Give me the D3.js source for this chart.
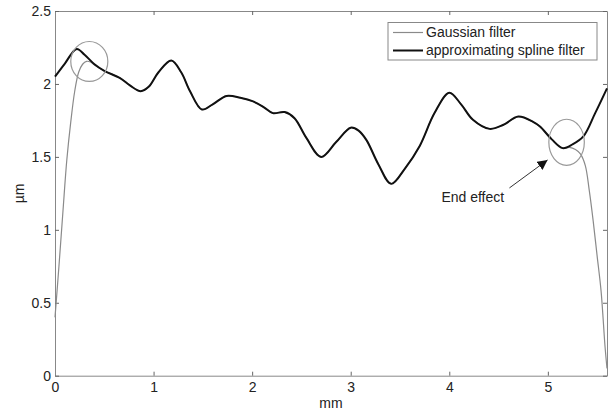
<!DOCTYPE html>
<html>
<head>
<meta charset="utf-8">
<script src="https://cdn.jsdelivr.net/npm/d3@7"></script>
<style>
  body { margin: 0; background: #fff; }
  svg { display: block; font-family: "Liberation Sans", Arial, sans-serif; }
</style>
</head>
<body>
<svg width="614" height="416"></svg>
<script>
// profile readings (mm, µm)
const splineX = [0.00, 0.10, 0.22, 0.30, 0.40, 0.50, 0.66, 0.76, 0.87, 0.95, 1.05, 1.18, 1.28, 1.37, 1.49, 1.60, 1.74, 1.88, 2.01, 2.12, 2.21, 2.33, 2.43, 2.55, 2.70, 2.85, 3.00, 3.08, 3.16, 3.28, 3.41, 3.55, 3.70, 3.85, 4.00, 4.12, 4.24, 4.41, 4.55, 4.70, 4.85, 4.92, 5.04, 5.15, 5.25, 5.36, 5.48, 5.60];
const splineY = [2.05, 2.14, 2.24, 2.20, 2.135, 2.09, 2.04, 1.99, 1.95, 1.98, 2.08, 2.16, 2.08, 1.95, 1.825, 1.86, 1.918, 1.905, 1.88, 1.84, 1.80, 1.807, 1.765, 1.63, 1.50, 1.60, 1.70, 1.68, 1.615, 1.45, 1.315, 1.42, 1.575, 1.80, 1.94, 1.86, 1.754, 1.692, 1.72, 1.776, 1.74, 1.708, 1.62, 1.56, 1.585, 1.64, 1.80, 1.97];

const gaussX = [0.00, 0.04, 0.08, 0.12, 0.16, 0.20, 0.24, 0.28, 0.32, 0.36, 0.40, 0.50, 0.66, 0.76, 0.87, 0.95, 1.05, 1.18, 1.28, 1.37, 1.49, 1.60, 1.74, 1.88, 2.01, 2.12, 2.21, 2.33, 2.43, 2.55, 2.70, 2.85, 3.00, 3.08, 3.16, 3.28, 3.41, 3.55, 3.70, 3.85, 4.00, 4.12, 4.24, 4.41, 4.55, 4.70, 4.85, 4.92, 5.04, 5.15, 5.22, 5.28, 5.33, 5.38, 5.42, 5.46, 5.50, 5.54, 5.58, 5.60];
const gaussY = [0.40, 0.75, 1.12, 1.48, 1.74, 1.95, 2.08, 2.135, 2.155, 2.15, 2.13, 2.09, 2.04, 1.99, 1.95, 1.98, 2.08, 2.16, 2.08, 1.95, 1.825, 1.86, 1.918, 1.905, 1.88, 1.84, 1.80, 1.807, 1.765, 1.63, 1.50, 1.60, 1.70, 1.68, 1.615, 1.45, 1.315, 1.42, 1.575, 1.80, 1.94, 1.86, 1.754, 1.692, 1.72, 1.776, 1.74, 1.708, 1.62, 1.56, 1.565, 1.55, 1.52, 1.44, 1.27, 1.06, 0.82, 0.58, 0.20, 0.05];

const xTicks = [0, 1, 2, 3, 4, 5];
const yTicks = [0, 0.5, 1, 1.5, 2, 2.5];
const seriesNames = ["Gaussian filter", "approximating spline filter"];

// end-effect circles: centre (mm, µm) and radii in data units
const circles = [
  { cx: 0.348, cy: 2.154, rx: 0.188, ry: 0.137 },
  { cx: 5.19, cy: 1.60, rx: 0.18, ry: 0.158 }
];
const arrowFrom = [4.61, 1.287];
const arrowTo = [4.997, 1.479];
const noteAt = [3.92, 1.19];

const svg = d3.select("svg");
const plotLeft = 55, plotRight = 607, plotTop = 11, plotBottom = 375.7;

const x = d3.scaleLinear().domain([0, 5.6]).range([plotLeft, plotRight]);
const y = d3.scaleLinear().domain([0, 2.5]).range([plotBottom, plotTop]);

function styleAxis(g) {
  g.select(".domain").attr("stroke", "#888");
  g.selectAll(".tick line").attr("stroke", "#666");
  g.selectAll("text").attr("fill", "#222").style("font-size", "14px")
    .style("font-family", "'Liberation Sans', Arial, sans-serif");
}

svg.append("g")
  .attr("transform", `translate(0,${plotBottom})`)
  .call(d3.axisBottom(x).tickValues(xTicks).tickSize(-4).tickSizeOuter(0).tickPadding(6).tickFormat(d => d))
  .call(styleAxis);

svg.append("g")
  .attr("transform", `translate(0,${plotTop})`)
  .call(d3.axisTop(x).tickValues(xTicks).tickSize(-4).tickSizeOuter(0).tickFormat(""))
  .call(styleAxis);

svg.append("g")
  .attr("transform", `translate(${plotLeft},0)`)
  .call(d3.axisLeft(y).tickValues(yTicks).tickSize(-4).tickSizeOuter(0).tickPadding(4).tickFormat(d => d))
  .call(styleAxis);

svg.append("g")
  .attr("transform", `translate(${plotRight},0)`)
  .call(d3.axisRight(y).tickValues(yTicks).tickSize(-4).tickSizeOuter(0).tickFormat(""))
  .call(styleAxis);

const line = d3.line()
  .x(d => x(d[0]))
  .y(d => y(d[1]))
  .curve(d3.curveCatmullRom.alpha(0.5));

const gauss = gaussX.map((v, i) => [v, gaussY[i]]);
const spline = splineX.map((v, i) => [v, splineY[i]]);

svg.append("path")
  .attr("d", line(gauss))
  .attr("fill", "none")
  .attr("stroke", "#8a8a8a")
  .attr("stroke-width", 1.2);

svg.append("path")
  .attr("d", line(spline))
  .attr("fill", "none")
  .attr("stroke", "#111")
  .attr("stroke-width", 2);

svg.selectAll("ellipse.mark")
  .data(circles)
  .join("ellipse")
  .attr("class", "mark")
  .attr("cx", d => x(d.cx))
  .attr("cy", d => y(d.cy))
  .attr("rx", d => x(d.rx) - x(0))
  .attr("ry", d => y(0) - y(d.ry))
  .attr("fill", "none")
  .attr("stroke", "#999")
  .attr("stroke-width", 1.2);

// annotation arrow
svg.append("defs").append("marker")
  .attr("id", "head")
  .attr("viewBox", "0 0 10 10")
  .attr("refX", 10).attr("refY", 5)
  .attr("markerWidth", 10).attr("markerHeight", 10)
  .attr("markerUnits", "userSpaceOnUse")
  .attr("orient", "auto")
  .append("path")
  .attr("d", "M0,0L10,5L0,10z")
  .attr("fill", "#111");

svg.append("line")
  .attr("x1", x(arrowFrom[0])).attr("y1", y(arrowFrom[1]))
  .attr("x2", x(arrowTo[0])).attr("y2", y(arrowTo[1]))
  .attr("stroke", "#333")
  .attr("stroke-width", 1)
  .attr("marker-end", "url(#head)");

svg.append("text")
  .attr("x", x(noteAt[0])).attr("y", y(noteAt[1]))
  .attr("fill", "#222")
  .style("font-size", "14px")
  .text("End effect");

// axis titles
svg.append("text")
  .attr("x", (plotLeft + plotRight) / 2).attr("y", 408)
  .attr("text-anchor", "middle")
  .attr("fill", "#222")
  .style("font-size", "14px")
  .text("mm");

svg.append("text")
  .attr("transform", `translate(24,${(plotTop + plotBottom) / 2}) rotate(-90)`)
  .attr("text-anchor", "middle")
  .attr("fill", "#222")
  .style("font-size", "14px")
  .text("µm");

// legend
const legend = svg.append("g");
legend.append("rect")
  .attr("x", 388).attr("y", 22.5)
  .attr("width", 209).attr("height", 37.5)
  .attr("fill", "#fff")
  .attr("stroke", "#888")
  .attr("stroke-width", 1);

const legendColors = ["#8a8a8a", "#111"];
const legendWidths = [1.2, 2];
seriesNames.forEach((name, i) => {
  const cy = 32.5 + i * 18;
  legend.append("line")
    .attr("x1", 393).attr("x2", 423)
    .attr("y1", cy).attr("y2", cy)
    .attr("stroke", legendColors[i])
    .attr("stroke-width", legendWidths[i]);
  legend.append("text")
    .attr("x", 426).attr("y", cy)
    .attr("dy", "0.35em")
    .attr("fill", "#222")
    .style("font-size", "14px")
    .text(name);
});
</script>
</body>
</html>
